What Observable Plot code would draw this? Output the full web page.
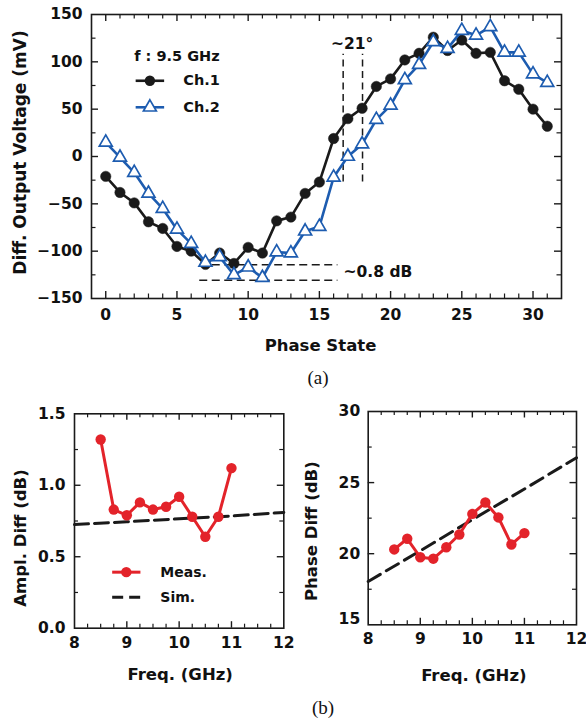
<!DOCTYPE html>
<html><head><meta charset="utf-8">
<script src="https://cdn.jsdelivr.net/npm/d3@7"></script>
<script src="https://cdn.jsdelivr.net/npm/@observablehq/plot@0.6"></script>
<style>
body{margin:0;background:#fff;}
#root{position:relative;width:586px;height:721px;overflow:hidden;background:#fff;}
.panel{position:absolute;}
.cap{position:absolute;font-family:"Liberation Serif","Times New Roman",serif;font-size:19px;color:#111;transform:translate(-50%,-50%);white-space:nowrap;}
</style></head><body><div id="root"></div>
<script>
// ---------- data ----------
const phaseStates = [0,1,2,3,4,5,6,7,8,9,10,11,12,13,14,15,16,17,18,19,20,21,22,23,24,25,26,27,28,29,30,31];
const ch1 = [-21,-38,-49,-69,-76,-95,-100,-114,-102,-113,-96,-102,-68,-64,-39,-27,19,40,51,74,82,102,109,126,112,123,109,110,80,71,50,32];
const ch2 = [15,-1,-17,-39,-55,-77,-92,-112,-106,-125,-117,-128,-101,-102,-79,-74,-22,0,13,39,54,81,97,121,114,133,128,137,110,110,87,78];
const topXTicks = [0,5,10,15,20,25,30];
const topYTicks = [-150,-100,-50,0,50,100,150];

const freqs = [8.5,8.75,9,9.25,9.5,9.75,10,10.25,10.5,10.75,11];
const amplMeas = [1.32,0.83,0.79,0.88,0.83,0.85,0.92,0.78,0.64,0.78,1.12];
const simFreqs = [8,9,10,11,12];
const amplSim = [0.725,0.745,0.765,0.785,0.81];
const phaseMeas = [20.3,21.05,19.75,19.65,20.45,21.35,22.8,23.6,22.55,20.65,21.45];
const phaseSim = [18.05,20.2,22.4,24.55,26.75];
const freqTicks = [8,9,10,11,12];
const amplTicks = [0,0.5,1,1.5];
const phaseTicks = [15,20,25,30];

// ---------- styles ----------
const FONT = "'DejaVu Sans', 'Liberation Sans', Arial, sans-serif";
const BLUE = "#1d5cb0";
const RED = "#e3232a";
const INK = "#1a1a1a";
const baseStyle = {fontFamily: FONT, fontWeight: "bold", fontSize: "15.5px", color: "#111", background: "transparent", overflow: "visible"};

function between(a, b, step) { // tick positions for frame decoration
  const out = [];
  for (let v = a; v <= b + 1e-9; v += step) out.push(+v.toFixed(6));
  return out;
}
function inwardTicks(xs, ys, fw, fh, len, sw) {
  return [
    Plot.tickX(xs, {x: d => d, insetTop: fh - len, stroke: INK, strokeWidth: sw}),
    Plot.tickX(xs, {x: d => d, insetBottom: fh - len, stroke: INK, strokeWidth: sw}),
    Plot.tickY(ys, {y: d => d, insetRight: fw - len, stroke: INK, strokeWidth: sw}),
    Plot.tickY(ys, {y: d => d, insetLeft: fw - len, stroke: INK, strokeWidth: sw})
  ];
}

const root = document.getElementById("root");
function place(svg, left, top) {
  const d = document.createElement("div");
  d.className = "panel"; d.style.left = left + "px"; d.style.top = top + "px";
  d.appendChild(svg); root.appendChild(d);
}
function caption(txt, cx, cy) {
  const d = document.createElement("div");
  d.className = "cap"; d.textContent = txt; d.style.left = cx + "px"; d.style.top = cy + "px";
  root.appendChild(d);
}

// ---------- (a) ----------
{
  const W = 586, H = 400, mL = 91, mR = 25, mT = 14, mB = 102;
  const fw = W - mL - mR, fh = H - mT - mB;
  const d1 = phaseStates.map((s, i) => ({s, v: ch1[i]}));
  const d2 = phaseStates.map((s, i) => ({s, v: ch2[i]}));
  const xMajor = topXTicks;
  const xMinor = phaseStates.filter(s => !topXTicks.includes(s));
  const yMajor = topYTicks.slice(1, -1);
  const yMinor = between(-125, 125, 50);
  const svg = Plot.plot({
    width: W, height: H, marginLeft: mL, marginRight: mR, marginTop: mT, marginBottom: mB,
    x: {domain: [-1, 32]},
    y: {domain: [-150, 150]},
    style: baseStyle,
    marks: [
      ...inwardTicks(xMajor, yMajor, fw, fh, 7, 1.4),
      ...inwardTicks(xMinor, yMinor, fw, fh, 4.5, 1.2),
      Plot.axisX(topXTicks, {tickSize: 0, tickPadding: 10, label: null}),
      Plot.axisY(topYTicks, {tickSize: 0, tickPadding: 9, label: null}),
      Plot.text(["Phase State"], {frameAnchor: "bottom", textAnchor: "middle", lineAnchor: "middle", dx: -6, dy: 47, fontSize: 16.5}),
      Plot.text(["Diff. Output Voltage (mV)"], {frameAnchor: "left", textAnchor: "middle", lineAnchor: "middle", rotate: -90, dx: -71, dy: -4, fontSize: 17}),
      // annotations
      Plot.ruleX([16.67, 18.03], {y1: -27, y2: 108, stroke: INK, strokeWidth: 1.5, strokeDasharray: "7,4.5"}),
      Plot.ruleY([-114.4, -130.6], {x1: 6.6, x2: 16.3, stroke: INK, strokeWidth: 1.5, strokeDasharray: "8,4.5"}),
      Plot.text(["~21°"], {x: 17.3, y: 119, fontSize: 15.5}),
      Plot.text(["~0.8 dB"], {x: 16.7, y: -122, textAnchor: "start", fontSize: 15.5}),
      // series
      Plot.line(d1, {x: "s", y: "v", stroke: INK, strokeWidth: 2.6}),
      Plot.dot(d1, {x: "s", y: "v", r: 5.2, fill: INK, stroke: INK, strokeWidth: 0.5}),
      Plot.line(d2, {x: "s", y: "v", stroke: BLUE, strokeWidth: 2.6}),
      Plot.dot(d2, {x: "s", y: "v", symbol: "triangle", r: 4.8, fill: "white", stroke: BLUE, strokeWidth: 1.7}),
      // legend
      Plot.text(["f : 9.5 GHz"], {x: 2.0, y: 105.5, textAnchor: "start", fontSize: 14.5}),
      Plot.link([0], {x1: 2.1, x2: 4.1, y1: 80, y2: 80, stroke: INK, strokeWidth: 2.6}),
      Plot.dot([0], {x: 3.1, y: 80, r: 5.2, fill: INK}),
      Plot.text(["Ch.1"], {x: 5.45, y: 80, textAnchor: "start", fontSize: 14.5}),
      Plot.link([0], {x1: 2.1, x2: 4.1, y1: 52, y2: 52, stroke: BLUE, strokeWidth: 2.6}),
      Plot.dot([0], {x: 3.1, y: 52, symbol: "triangle", r: 4.8, fill: "white", stroke: BLUE, strokeWidth: 1.7}),
      Plot.text(["Ch.2"], {x: 5.45, y: 52, textAnchor: "start", fontSize: 14.5}),
      Plot.frame({stroke: INK, strokeWidth: 1.6})
    ]
  });
  place(svg, 0, 0);
  caption("(a)", 318, 378);
}

// ---------- (b) left ----------
{
  const W = 293, H = 300, mL = 74, mR = 9.7, mT = 13.3, mB = 72.3;
  const fw = W - mL - mR, fh = H - mT - mB;
  const meas = freqs.map((f, i) => ({f, v: amplMeas[i]}));
  const sim = simFreqs.map((f, i) => ({f, v: amplSim[i]}));
  const xMajor = [9, 10, 11];
  const xMinor = between(8.25, 11.75, 0.25).filter(v => !Number.isInteger(v));
  const svg = Plot.plot({
    width: W, height: H, marginLeft: mL, marginRight: mR, marginTop: mT, marginBottom: mB,
    x: {domain: [8, 12]},
    y: {domain: [0, 1.5]},
    style: baseStyle,
    marks: [
      ...inwardTicks(xMajor, [0.5, 1.0], fw, fh, 6.5, 1.4),
      ...inwardTicks(xMinor, [0.25, 0.75, 1.25], fw, fh, 4, 1.2),
      Plot.axisX(freqTicks, {tickSize: 0, tickPadding: 8.5, label: null}),
      Plot.axisY(amplTicks, {tickSize: 0, tickPadding: 9, label: null, tickFormat: d => d.toFixed(1)}),
      Plot.text(["Freq. (GHz)"], {frameAnchor: "bottom", textAnchor: "middle", lineAnchor: "middle", dx: 1, dy: 47, fontSize: 16.5}),
      Plot.text(["Ampl. Diff (dB)"], {frameAnchor: "left", textAnchor: "middle", lineAnchor: "middle", rotate: -90, dx: -54, dy: 17, fontSize: 16.5}),
      Plot.line(sim, {x: "f", y: "v", stroke: INK, strokeWidth: 3, strokeDasharray: "14,6"}),
      Plot.line(meas, {x: "f", y: "v", stroke: RED, strokeWidth: 3}),
      Plot.dot(meas, {x: "f", y: "v", r: 5.2, fill: RED}),
      // legend
      Plot.link([0], {x1: 8.72, x2: 9.26, y1: 0.392, y2: 0.392, stroke: RED, strokeWidth: 3}),
      Plot.dot([0], {x: 8.99, y: 0.392, r: 5.2, fill: RED}),
      Plot.text(["Meas."], {x: 9.64, y: 0.392, textAnchor: "start", fontSize: 14}),
      Plot.link([0], {x1: 8.72, x2: 9.26, y1: 0.217, y2: 0.217, stroke: INK, strokeWidth: 3, strokeDasharray: "11,6"}),
      Plot.text(["Sim."], {x: 9.64, y: 0.217, textAnchor: "start", fontSize: 14}),
      Plot.frame({stroke: INK, strokeWidth: 1.6})
    ]
  });
  place(svg, 0, 400);
}

// ---------- (b) right ----------
{
  const W = 293, H = 300, mL = 74.7, mR = 10, mT = 11, mB = 75.7;
  const fw = W - mL - mR, fh = H - mT - mB;
  const meas = freqs.map((f, i) => ({f, v: phaseMeas[i]}));
  const sim = simFreqs.map((f, i) => ({f, v: phaseSim[i]}));
  const xMajor = [9, 10, 11];
  const xMinor = between(8.25, 11.75, 0.25).filter(v => !Number.isInteger(v));
  const svg = Plot.plot({
    width: W, height: H, marginLeft: mL, marginRight: mR, marginTop: mT, marginBottom: mB,
    x: {domain: [8, 12]},
    y: {domain: [15, 30]},
    style: baseStyle,
    marks: [
      ...inwardTicks(xMajor, [20, 25], fw, fh, 6.5, 1.4),
      ...inwardTicks(xMinor, [17.5, 22.5, 27.5], fw, fh, 4, 1.2),
      Plot.axisX(freqTicks, {tickSize: 0, tickPadding: 8, label: null}),
      Plot.axisY(phaseTicks.slice(1), {tickSize: 0, tickPadding: 8, label: null}),
      Plot.axisY(phaseTicks.slice(0, 1), {tickSize: 0, tickPadding: 8, label: null, dy: -6}),
      Plot.text(["Freq. (GHz)"], {frameAnchor: "bottom", textAnchor: "middle", lineAnchor: "middle", dx: 1.5, dy: 50.5, fontSize: 16.5}),
      Plot.text(["Phase Diff (dB)"], {frameAnchor: "left", textAnchor: "middle", lineAnchor: "middle", rotate: -90, dx: -56, dy: 13, fontSize: 16.5}),
      Plot.line(sim, {x: "f", y: "v", stroke: INK, strokeWidth: 3, strokeDasharray: "14,7"}),
      Plot.line(meas, {x: "f", y: "v", stroke: RED, strokeWidth: 3}),
      Plot.dot(meas, {x: "f", y: "v", r: 5.2, fill: RED}),
      Plot.frame({stroke: INK, strokeWidth: 1.6})
    ]
  });
  place(svg, 293, 400);
  caption("(b)", 323, 708);
}
</script>
</body></html>
